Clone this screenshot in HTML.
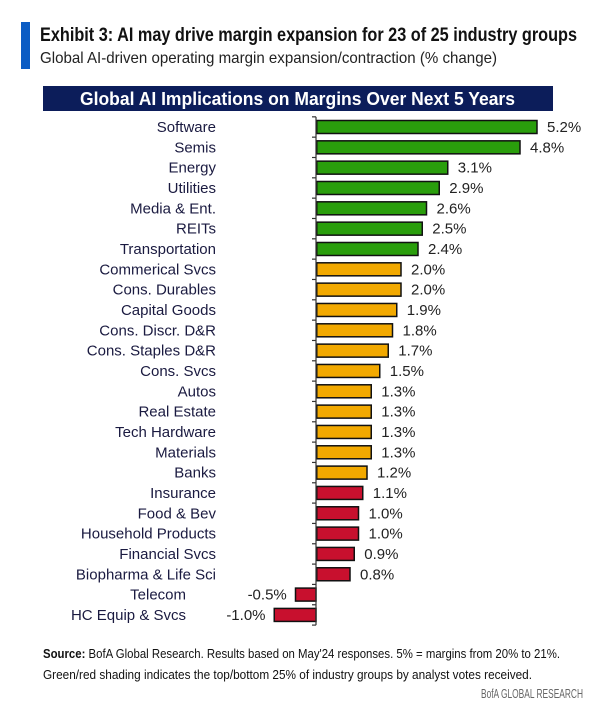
<!DOCTYPE html>
<html><head><meta charset="utf-8">
<style>
body{margin:0;background:#fff;width:604px;height:704px;overflow:hidden;font-family:"Liberation Sans",sans-serif;}
svg text{font-family:"Liberation Sans",sans-serif;}
</style></head>
<body>
<svg width="604" height="704">
  <rect x="21" y="22" width="9" height="47" fill="#0b5cc4"/>
  <text x="40" y="41" font-size="19" font-weight="bold" fill="#111" textLength="537" lengthAdjust="spacingAndGlyphs">Exhibit 3: AI may drive margin expansion for 23 of 25 industry groups</text>
  <text x="40" y="63" font-size="16" fill="#222" textLength="457" lengthAdjust="spacingAndGlyphs">Global AI-driven operating margin expansion/contraction (% change)</text>
  <rect x="43" y="86" width="510" height="25" fill="#0c1d5a"/>
  <text x="80" y="105" font-size="18" font-weight="bold" fill="#fff" textLength="435" lengthAdjust="spacingAndGlyphs">Global AI Implications on Margins Over Next 5 Years</text>
  <g id="plot"></g>
  <text x="43" y="658" font-size="12.5" fill="#111" textLength="517" lengthAdjust="spacingAndGlyphs"><tspan font-weight="bold">Source:</tspan> BofA Global Research. Results based on May'24 responses. 5% = margins from 20% to 21%.</text>
  <text x="43" y="679" font-size="12.5" fill="#111" textLength="489" lengthAdjust="spacingAndGlyphs">Green/red shading indicates the top/bottom 25% of industry groups by analyst votes received.</text>
  <text x="481" y="698" font-size="12.5" fill="#666" textLength="102" lengthAdjust="spacingAndGlyphs">BofA GLOBAL RESEARCH</text>
</svg>
<script>
const categories=["Software","Semis","Energy","Utilities","Media & Ent.","REITs","Transportation","Commerical Svcs","Cons. Durables","Capital Goods","Cons. Discr. D&R","Cons. Staples D&R","Cons. Svcs","Autos","Real Estate","Tech Hardware","Materials","Banks","Insurance","Food & Bev","Household Products","Financial Svcs","Biopharma & Life Sci","Telecom","HC Equip & Svcs"];
const values=[5.2,4.8,3.1,2.9,2.6,2.5,2.4,2.0,2.0,1.9,1.8,1.7,1.5,1.3,1.3,1.3,1.3,1.2,1.1,1.0,1.0,0.9,0.8,-0.5,-1.0];
const groups=["g","g","g","g","g","g","g","o","o","o","o","o","o","o","o","o","o","o","r","r","r","r","r","r","r"];
const NS="http://www.w3.org/2000/svg";
const plot=document.getElementById('plot');
const colors={g:"#2a9e0c",o:"#f2a900",r:"#c8102e"};
const x0=316, pxPer=42.5, yTop=127, step=20.33, bh=13;
const xs=v=>x0+v*pxPer;
const ys=i=>yTop+i*step;
function mk(tag,attrs){const e=document.createElementNS(NS,tag);for(const k in attrs)e.setAttribute(k,attrs[k]);plot.appendChild(e);return e;}
categories.forEach((c,i)=>{
  const v=values[i], y=ys(i);
  const b=mk('rect',{x:Math.min(xs(0),xs(v))+0.75,y:y-bh/2,width:Math.abs(xs(v)-xs(0))-0.75,height:bh,fill:colors[groups[i]],stroke:"#111","stroke-width":1.5});
  
  
  const lab=mk('text',{x:v<0?186:216,y:y+5,'font-size':15,fill:'#1a1a40','text-anchor':'end'});
  lab.textContent=c;
  
  
  const vl=mk('text',{x:v<0?xs(v)-8:xs(v)+10,y:y+5,'font-size':15,fill:'#222','text-anchor':v<0?'end':'start'});
  vl.textContent=v.toFixed(1)+'%';
  
  
});
const ax=mk('line',{x1:x0,x2:x0,y1:ys(0)-step/2,y2:ys(categories.length-1)+step/2,stroke:'#333','stroke-width':1.2});


for(let i=0;i<=categories.length;i++){
  const t=mk('line',{x1:x0-4,x2:x0,y1:ys(i)-step/2,y2:ys(i)-step/2,stroke:'#333','stroke-width':1.2});
  
  
}
</script>
</body></html>
